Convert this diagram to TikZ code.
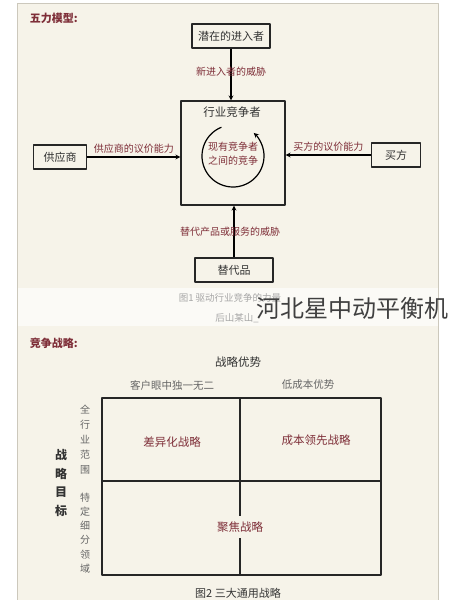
\documentclass[tikz,border=0pt]{standalone}
\usepackage{fontspec}
\setmainfont{Noto Sans CJK SC}
\usetikzlibrary{positioning}
\definecolor{paper}{HTML}{F6F3E9}
\definecolor{strip}{HTML}{FBFAF6}
\definecolor{rim}{HTML}{CCC8BC}
\definecolor{redbrown}{HTML}{7E2E38}
\definecolor{darktext}{HTML}{333333}
\definecolor{greytext}{HTML}{666666}
\begin{document}
\begin{tikzpicture}[x=1pt,y=-1pt,line join=round,>=stealth,line width=1.2pt]
	\tikzset{forcebox/.style={draw=black!85,minimum width=78pt,minimum height=24pt,inner sep=0pt,text=darktext,font=\fontsize{11}{13}\selectfont},
		forcelbl/.style={text=redbrown,font=\fontsize{10}{12}\selectfont},
		heading/.style={anchor=west,text=redbrown,font=\fontsize{11}{13}\selectfont\bfseries},
		caption/.style={text=black!35,font=\fontsize{9.5}{11}\selectfont},
		axislbl/.style={text=greytext,font=\fontsize{10.5}{12}\selectfont},
		cell/.style={text=redbrown,font=\fontsize{11.5}{13}\selectfont}}
	\useasboundingbox (0,0) rectangle (455,600);
	% panels
	\fill[paper] (17,3) rectangle (438,288);
	\fill[strip] (17,288) rectangle (438,326);
	\fill[paper] (17,326) rectangle (438,600);
	\draw[rim,thin] (17,600)--(17,3)--(438,3)--(438,600);
	% five forces
	\node[heading] (fivetitle) at (26,18) {五力模型:};
	\node[forcebox] (entrant) at (231,36) {潜在的进入者};
	\node[forcebox,minimum width=104pt,minimum height=104pt] (rivals) at (233,153) {};
	\node[text=darktext,font=\fontsize{11.5}{13}\selectfont] (rivaltitle) at (232,112) {行业竞争者};
	\node[forcebox,minimum width=53pt] (supplier) at (60,157) {供应商};
	\node[forcebox,minimum width=49pt] (buyer) at (396,155) {买方};
	\node[forcebox] (subst) at (234,270) {替代品};
	\draw[->] (entrant) -- (entrant|-rivals.north) node[forcelbl,pos=0.45] {新进入者的威胁};
	\draw[->] (supplier.east) -- (supplier.east-|rivals.west) node[forcelbl,midway,above] {供应商的议价能力};
	\draw[->] (buyer.west) -- (buyer.west-|rivals.east) node[forcelbl,midway,above] {买方的议价能力};
	\draw[->] (subst.north) -- (subst.north|-rivals.south) node[forcelbl,midway,xshift=-4pt] {替代产品或服务的威胁};
	\coordinate (whirl) at (233,156);
	\draw[->] (whirl) ++(112:31pt) arc[start angle=112,end angle=408,radius=31pt];
	\node[forcelbl,align=center,font=\fontsize{10}{14}\selectfont] (rivalry) at (233,154) {现有竞争者\\之间的竞争};
	% captions
	\node[caption] (cap1) at (230,298) {图1 驱动行业竞争的力量};
	\node[caption] (cap1b) at (237,318) {后山某山\_};
	\node[text=black!75,font=\fontsize{24}{26}\selectfont] (mark) at (352,308) {河北星中动平衡机};
	% generic strategies
	\node[heading] (strattitle) at (26,343) {竞争战略:};
	\node[text=darktext,font=\fontsize{11.5}{13}\selectfont] (advtitle) at (238,362) {战略优势};
	\node[axislbl] (unique) at (172,385) {客户眼中独一无二};
	\node[axislbl] (lowcost) at (308,385) {低成本优势};
	\coordinate (gridNW) at (102,398);
	\coordinate (gridSE) at (381,575);
	\draw[black!85] (gridNW) rectangle (gridSE);
	\draw[black!85] (102,481) -- (381,481);
	\draw[black!85] (240,398) -- (240,575);
	\node[cell] (differ) at (172,442) {差异化战略};
	\node[cell] (costlead) at (316,440) {成本领先战略};
	\node[cell,fill=paper,inner xsep=1pt,inner ysep=6pt] (focus) at (240,527) {聚焦战略};
	\node[text=darktext,align=center,font=\fontsize{12}{18.5}\selectfont\bfseries] (goal) at (61,483) {战\\略\\目\\标};
	\node[axislbl,align=center,font=\fontsize{10}{15}\selectfont] (broad) at (85,440) {全\\行\\业\\范\\围};
	\node[axislbl,align=center,font=\fontsize{10}{14.2}\selectfont] (narrow) at (85,533) {特\\定\\细\\分\\领\\域};
	\node[text=darktext,font=\fontsize{11}{13}\selectfont] (cap2) at (238,593) {图2 三大通用战略};
\end{tikzpicture}
\end{document}
